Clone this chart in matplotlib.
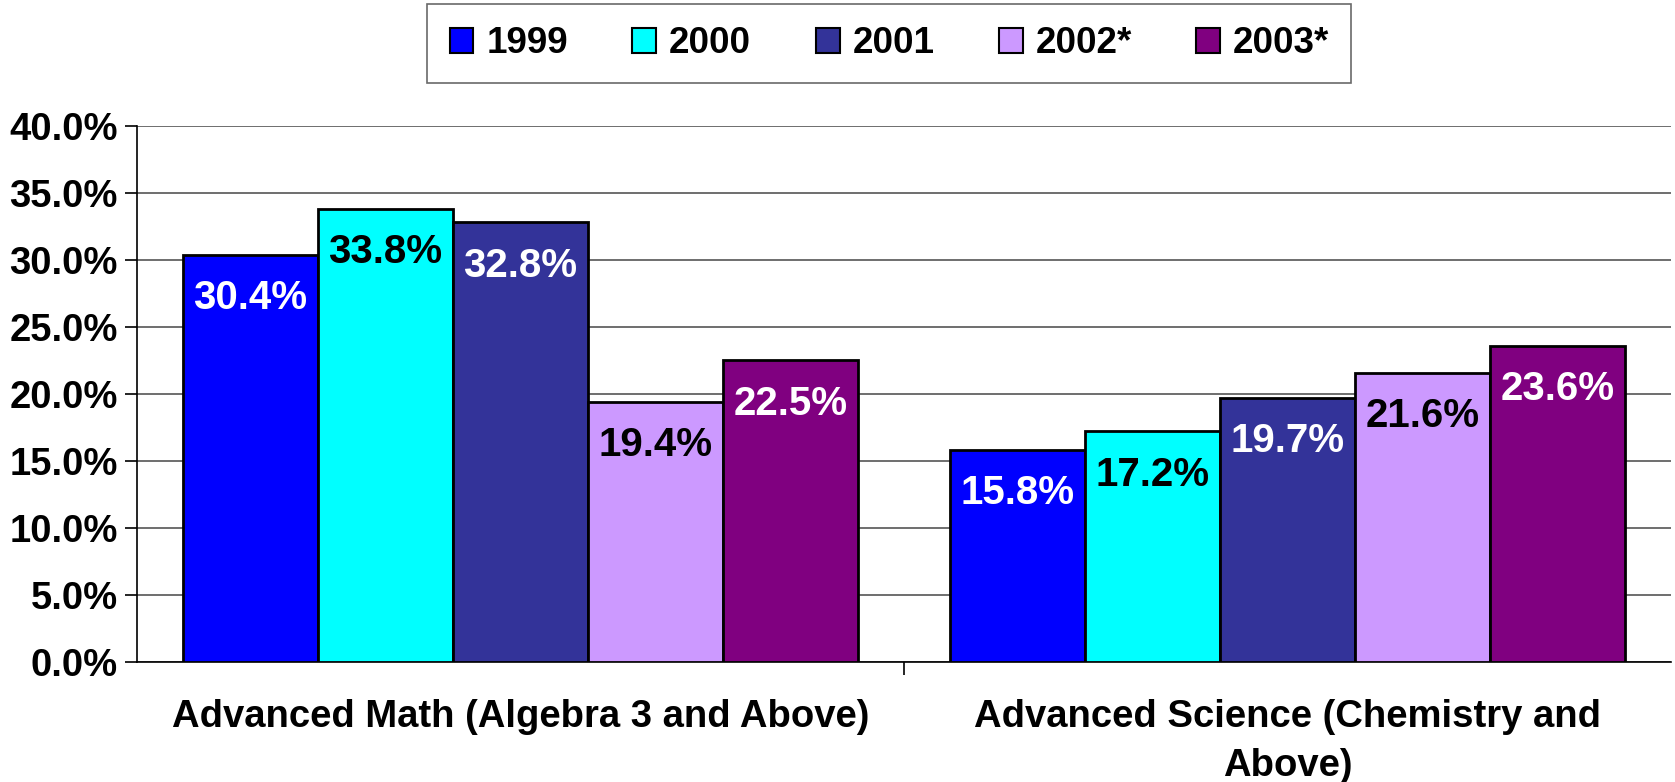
import numpy as np
import matplotlib.pyplot as plt
from matplotlib.patches import Patch

plt.rcParams['font.family'] = ['Liberation Sans', 'DejaVu Sans']
plt.rcParams['font.weight'] = 'bold'

categories = ['Advanced Math (Algebra 3 and Above)',
              'Advanced Science (Chemistry and\nAbove)']
years = ['1999', '2000', '2001', '2002*', '2003*']
math_vals = [30.4, 33.8, 32.8, 19.4, 22.5]
science_vals = [15.8, 17.2, 19.7, 21.6, 23.6]
colors = ['#0000FF', '#00FFFF', '#333399', '#CC99FF', '#800080']
label_colors = ['white', 'black', 'white', 'black', 'white']

values = np.array([math_vals, science_vals])  # rows: category, cols: year

fig = plt.figure(figsize=(16.75, 7.82), dpi=100)
ax = fig.add_axes([0.0818, 0.1535, 0.9158, 0.6854])

x = np.arange(len(categories))
bw = 0.176
for i, yr in enumerate(years):
    xs = x + (i - 2) * bw
    ax.bar(xs, values[:, i], width=bw, color=colors[i], edgecolor='black',
           linewidth=2, zorder=3)
    for xx, v in zip(xs, values[:, i]):
        ax.annotate('%.1f%%' % v, (xx, v), xytext=(0, -31),
                    textcoords='offset points', ha='center', va='center',
                    fontsize=29, fontweight='bold', color=label_colors[i],
                    zorder=4)

ax.set_xlim(-0.5, 1.5)
ax.set_ylim(0, 40)
ax.set_yticks(np.arange(0, 40.1, 5))
ax.set_yticklabels(['%.1f%%' % t for t in np.arange(0, 40.1, 5)])
ax.yaxis.grid(True, color='#555555', linewidth=1.2, zorder=0)
ax.tick_params(axis='y', labelsize=27.5, length=9, width=1.2, pad=5)

ax.set_xticks(x)
ax.set_xticklabels(categories, fontsize=27.5, linespacing=1.45)
ax.tick_params(axis='x', length=0, pad=27)
ax.set_xticks([0.5], minor=True)
ax.tick_params(axis='x', which='minor', length=9, width=1.2, direction='out')

for s in ['top', 'right']:
    ax.spines[s].set_visible(False)
ax.spines['left'].set_linewidth(1.2)
ax.spines['bottom'].set_linewidth(1.2)

handles = [Patch(facecolor=c, edgecolor='black', linewidth=1.5) for c in colors]
leg = fig.legend(handles, years, loc='center', bbox_to_anchor=(0.531, 0.944),
                 ncol=5, fontsize=26.5, frameon=True, fancybox=False,
                 edgecolor='#444444', handlelength=0.65, handleheight=0.7,
                 handletextpad=0.35, columnspacing=1.75, borderpad=0.6)
leg.get_frame().set_linewidth(1.2)

fig.savefig('out.png', dpi=100)
